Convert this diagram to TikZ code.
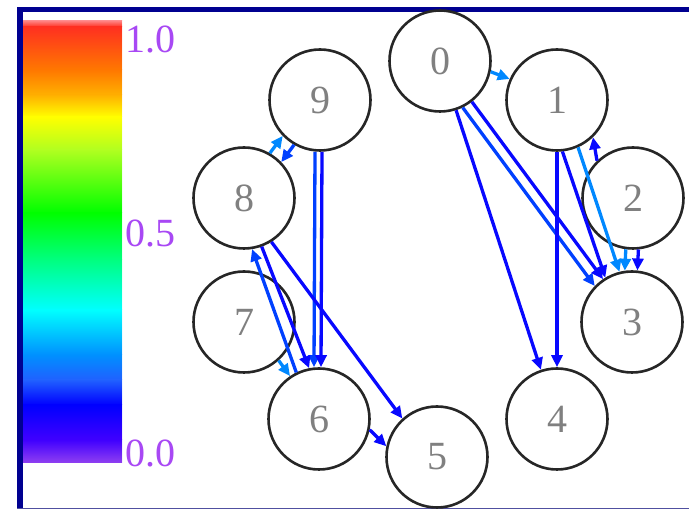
\documentclass[tikz,border=0pt]{standalone}
\usepackage{fontspec}
\setmainfont{Liberation Serif}
\usetikzlibrary{arrows.meta}
\definecolor{framec}{HTML}{000090}
\definecolor{framel}{HTML}{5050A0}
\definecolor{cbpurple}{HTML}{A848F4}
\definecolor{dblue}{HTML}{0808FF}
\definecolor{mblue}{HTML}{0040FF}
\definecolor{lblue}{HTML}{0088FF}
\definecolor{labgray}{HTML}{808080}
\tikzset{
  vtx/.style={circle, draw=black!85, line width=2.6pt, minimum size=101pt, inner sep=0pt,
    font=\fontsize{40}{40}\selectfont, text=labgray},
  cblab/.style={anchor=west, inner sep=0pt, text=cbpurple, font=\fontsize{40}{40}\selectfont},
  edge/.style={line width=3.3pt, -{Triangle[length=12pt,width=11pt]}},
}
\begin{document}
\begin{tikzpicture}[x=1pt,y=-1pt]
\useasboundingbox (0,0) rectangle (689,510);
\fill[white] (0,0) rectangle (689,510);
% frame
\fill[framec] (17,7) rectangle (23,509);
\fill[framec] (17,7) rectangle (689,12);
\draw[framel, line width=1pt] (17,508.5) -- (689,508.5);
% colour bar
\shade[top color={rgb,255:red,255;green,128;blue,128}, bottom color={rgb,255:red,255;green,48;blue,32}] (23,21) rectangle (122,27);
\shade[top color={rgb,255:red,255;green,48;blue,32}, bottom color={rgb,255:red,255;green,120;blue,0}] (23,27) rectangle (122,70);
\shade[top color={rgb,255:red,255;green,120;blue,0}, bottom color={rgb,255:red,255;green,176;blue,0}] (23,70) rectangle (122,95);
\shade[top color={rgb,255:red,255;green,176;blue,0}, bottom color={rgb,255:red,255;green,255;blue,0}] (23,95) rectangle (122,117);
\shade[top color={rgb,255:red,255;green,255;blue,0}, bottom color={rgb,255:red,176;green,255;blue,32}] (23,117) rectangle (122,150);
\shade[top color={rgb,255:red,176;green,255;blue,32}, bottom color={rgb,255:red,0;green,255;blue,0}] (23,150) rectangle (122,213);
\shade[top color={rgb,255:red,0;green,255;blue,0}, bottom color={rgb,255:red,0;green,255;blue,128}] (23,213) rectangle (122,260);
\shade[top color={rgb,255:red,0;green,255;blue,128}, bottom color={rgb,255:red,0;green,255;blue,255}] (23,260) rectangle (122,310);
\shade[top color={rgb,255:red,0;green,255;blue,255}, bottom color={rgb,255:red,0;green,144;blue,255}] (23,310) rectangle (122,355);
\shade[top color={rgb,255:red,0;green,144;blue,255}, bottom color={rgb,255:red,32;green,96;blue,255}] (23,355) rectangle (122,380);
\shade[top color={rgb,255:red,32;green,96;blue,255}, bottom color={rgb,255:red,0;green,0;blue,255}] (23,380) rectangle (122,405);
\shade[top color={rgb,255:red,0;green,0;blue,255}, bottom color={rgb,255:red,64;green,0;blue,255}] (23,405) rectangle (122,440);
\shade[top color={rgb,255:red,64;green,0;blue,255}, bottom color={rgb,255:red,144;green,64;blue,240}] (23,440) rectangle (122,463);
\fill[white, opacity=0.45] (122,21) rectangle (126,463);
\node[cblab] (l10) at (125,39) {1.0};
\node[cblab] (l05) at (125,233) {0.5};
\node[cblab] (l00) at (125,453) {0.0};
% vertices
\node[vtx] (n0) at (440,61) {0};
\node[vtx] (n1) at (557,100) {1};
\node[vtx] (n2) at (633,198) {2};
\node[vtx] (n3) at (632,322) {3};
\node[vtx] (n4) at (557,419) {4};
\node[vtx] (n5) at (437,457) {5};
\node[vtx] (n6) at (319,419) {6};
\node[vtx] (n7) at (244,322) {7};
\node[vtx] (n8) at (244,198) {8};
\node[vtx] (n9) at (320,100) {9};
% right group
\draw[edge, lblue] (n0.-12) -- (n1.156);
\draw[edge, dblue] (n0) -- (n4);
\draw[edge, mblue] (n0.-64) -- (n3.136);
\draw[edge, dblue] (n0.-52) -- (n3.124);
\draw[edge, dblue] (n1) -- (n4);
\draw[edge, dblue] (n1.-84) -- (n3.121);
\draw[edge, lblue] (n1.-66) -- (n3.104);
\draw[edge, dblue] (n2.134) -- (n1.-46);
\draw[edge, lblue] (n2.-98) -- (n3.98);
\draw[edge, dblue] (n2.-84) -- (n3.84);
% left group
\draw[edge, lblue] (n8.60) -- (n9.-136);
\draw[edge, mblue] (n9.-120) -- (n8.44);
\draw[edge, mblue] ([xshift=-5pt]n9.south) -- ([xshift=-5pt]n6.north);
\draw[edge, dblue] ([xshift=2pt]n9.south) -- ([xshift=2pt]n6.north);
\draw[edge, dblue] (n8.-58) -- (n5.132);
\draw[edge, dblue] (n8.-70) -- (n6.101);
\draw[edge, mblue] (n6.116) -- (n8.-81);
\draw[edge, lblue] (n7.-48) -- (n6.124);
\draw[edge, dblue] (n6.-12) -- (n5.168);
\end{tikzpicture}
\end{document}
